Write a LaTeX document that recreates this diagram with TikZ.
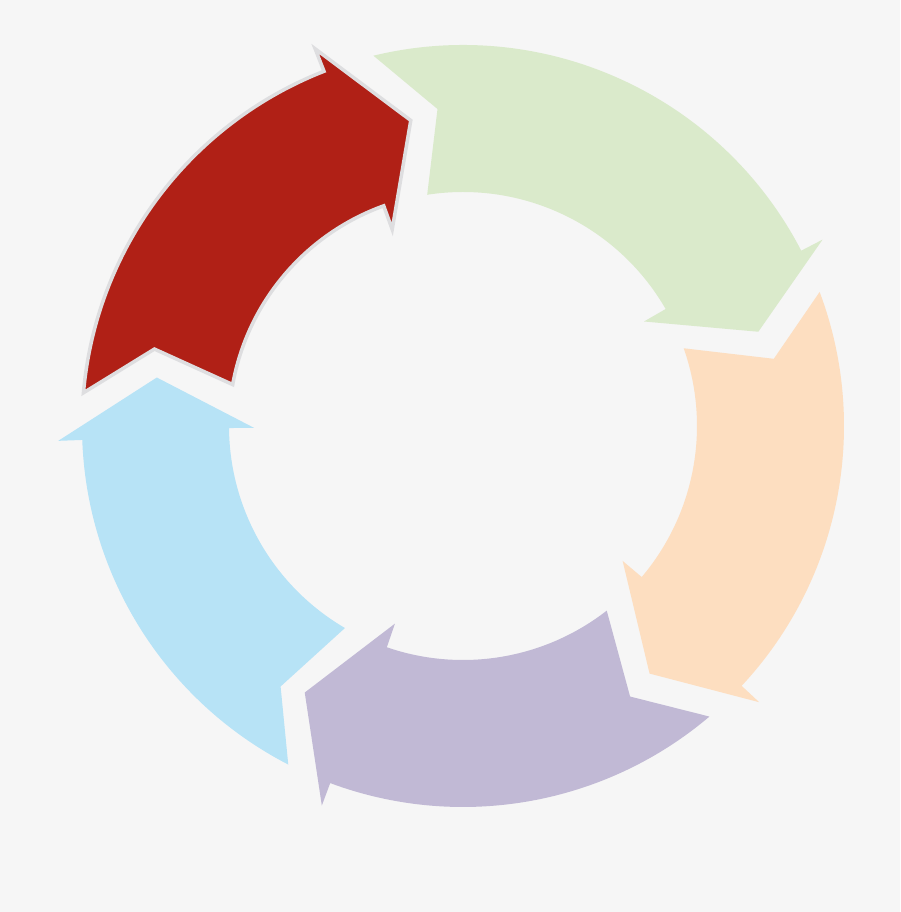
\documentclass[tikz,border=0pt]{standalone}
\usepackage{tikz}

\definecolor{bgcol}{HTML}{F6F6F6}
\definecolor{redarrow}{HTML}{B02016}
\definecolor{greenarrow}{HTML}{DAEACB}
\definecolor{orangearrow}{HTML}{FDDEC0}
\definecolor{purplearrow}{HTML}{C1B9D5}
\definecolor{bluearrow}{HTML}{B7E3F6}
\definecolor{rimcol}{HTML}{DEDEE0}

\tikzset{
    segment/.style={fill=#1, draw=none},
    active/.style={fill=redarrow, draw=rimcol, line width=2pt, line join=miter}
}

\begin{document}
\begin{tikzpicture}[x=0.02cm, y=0.02cm]

    % background, centre of the ring at the origin
    \fill[bgcol] (-463,-486) rectangle (437,426);
    \coordinate (c) at (0,0);

    % the four pale arrows: colour / tail outer / notch / tail inner / head outer / head inner / tip
    \foreach \col/\T/\N/\I/\Ho/\Hi/\P in {
        greenarrow/103.6/94.6/98.8/27.4/30/17.7,
        orangearrow/20.6/12.2/19.4/-43/-40.2/-53,
        purplearrow/-49.7/-58.3/-52.1/-110.4/-109/-120.7,
        bluearrow/-117.3/-125/-120.3/-177.9/-179.5/-189}
    {
        \path[segment=\col] (\I:234) -- (\N:318) -- (\T:381)
            arc[start angle=\T, end angle=\Ho, radius=381]
            -- (\Ho:405) -- (\P:310) -- (\Hi:209) -- (\Hi:234)
            arc[start angle=\Hi, end angle=\I, radius=234] -- cycle;
    }

    % the red arrow with its grey rim
    \path[active] (169.8:234) -- (166:318) -- (175:381)
        arc[start angle=175, end angle=111.4, radius=381]
        -- (111.4:405) -- (99.7:310) -- (109.8:209) -- (109.8:234)
        arc[start angle=109.8, end angle=169.8, radius=234] -- cycle;

\end{tikzpicture}
\end{document}
